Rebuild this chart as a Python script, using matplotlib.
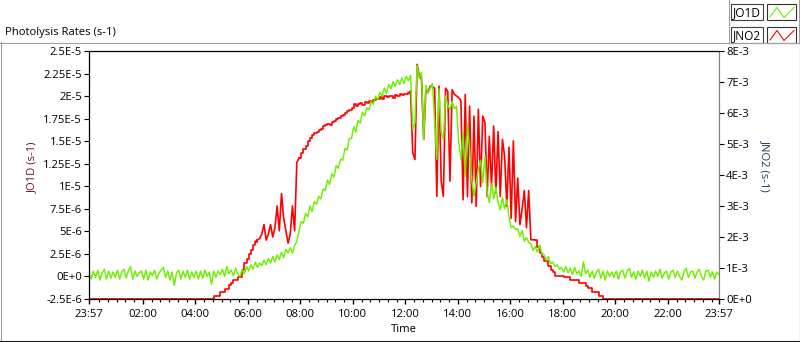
import numpy as np
import matplotlib
matplotlib.use('Agg')
import matplotlib.pyplot as plt
from matplotlib.lines import Line2D
from matplotlib.patches import Rectangle

# samples every 5 minutes, from 23:57 the day before up to 23:57
minutes = np.arange(-3, 1438, 5)

# JO1D in units of 1e-6 s-1, one line per hour
jo1d = [
    0.5, -0.3, 0.6, -0.1, 0.7, -0.4, 0.4, 0.8, -0.3, 0.6, -0.2, 0.5,
    -0.1, 0.7, -0.3, 0.5, 0.8, -0.2, 0.6, 1.1, -0.3, 0.6, 0.0, 0.4,
    0.6, -0.3, 0.7, -0.4, 0.5, 0.1, 0.7, -0.3, 0.4, 0.7, 1.0, -0.1,
    0.6, -0.4, 0.5, -1.0, 0.4, 0.7, -0.3, 0.6, -0.1, 0.7, -0.3, 0.5,
    -0.1, 0.6, -0.3, 0.6, -0.2, 0.7, 0.0, 0.5, -0.9, 0.6, -0.1, 0.6,
    0.2, 0.8, 0.0, 1.1, 0.3, 0.7, 0.1, 0.9, 0.3, 0.0, 0.8, 0.3,
    1.1, 0.6, 1.3, 0.8, 1.6, 1.0, 1.5, 1.2, 1.8, 1.3, 2.0, 1.5,
    2.2, 1.6, 2.4, 1.9, 2.7, 2.1, 3.0, 2.6, 3.2, 2.6, 3.4, 3.9,
    5.0, 6.1, 5.9, 7.0, 6.6, 7.8, 7.2, 8.3, 8.0, 8.9, 8.6, 9.7,
    9.5, 10.7, 10.2, 11.4, 11.0, 12.3, 12.0, 13.0, 12.9, 14.2, 14.0, 15.3,
    15.3, 16.6, 16.0, 17.3, 17.0, 18.2, 17.8, 18.7, 18.5, 19.4, 19.1, 20.0,
    19.6, 20.4, 20.0, 20.9, 20.3, 21.3, 20.8, 21.6, 21.1, 21.8, 21.3, 22.0,
    21.4, 22.2, 21.7, 22.3, 16.3, 17.0, 23.4, 22.0, 22.6, 15.2, 21.2, 20.3,
    20.9, 21.4, 17.1, 13.0, 20.8, 16.0, 15.2, 20.0, 19.0, 18.5, 19.4, 18.6,
    18.9, 14.9, 13.0, 15.9, 11.1, 16.9, 14.2, 10.7, 8.9, 10.4, 11.9, 12.9,
    10.4, 13.3, 9.3, 8.2, 10.3, 8.6, 9.9, 8.2, 7.4, 8.8, 7.5, 8.5,
    6.6, 5.4, 5.6, 5.2, 5.3, 4.4, 5.1, 3.9, 4.3, 3.8, 3.6, 2.9,
    3.3, 2.7, 3.5, 2.5, 2.4, 1.8, 2.2, 1.4, 1.6, 1.1, 1.3, 0.8,
    1.0, 0.5, 1.1, 0.4, 0.9, 0.2, 1.0, 0.3, 0.6, 0.0, 1.6, 0.3,
    0.7, -0.1, 0.6, -0.2, 0.5, 0.8, -0.2, 0.6, -0.4, 0.6, 0.0, 0.5,
    -0.1, 0.6, -0.3, 0.5, 0.7, -0.2, 0.6, 0.9, -0.1, 0.5, -0.3, 0.6,
    0.0, 0.7, -0.2, 0.6, -0.5, 0.5, -0.1, 0.6, 0.0, 0.8, -0.2, 0.4,
    0.6, -0.3, 0.5, 0.7, -0.1, 0.6, 0.0, -0.4, 0.5, 0.9, -0.1, 0.5,
    0.6, -0.2, 0.5, 0.8, 0.0, -0.4, 0.6, 0.7, -0.1, 0.5, -0.3, 0.5,
    0.2,
]

# JNO2 in units of 1e-3 s-1, one line per hour
jno2 = [
    0, 0, 0, 0, 0, 0, 0, 0, 0, 0, 0, 0,
    0, 0, 0, 0, 0, 0, 0, 0, 0, 0, 0, 0,
    0, 0, 0, 0, 0, 0, 0, 0, 0, 0, 0, 0,
    0, 0, 0, 0, 0, 0, 0, 0, 0, 0, 0, 0,
    0, 0, 0, 0, 0, 0, 0, 0, 0, 0.11, 0.11, 0.11,
    0.22, 0.22, 0.32, 0.32, 0.45, 0.53, 0.61, 0.61, 0.72, 0.72, 0.94, 1.16,
    1.30, 1.45, 1.59, 1.75, 1.85, 1.91, 1.95, 2.1, 2.4, 1.9, 2.1, 2.4,
    2.0, 2.3, 3.0, 2.2, 3.4, 2.6, 2.2, 1.8, 2.1, 3.0, 2.2, 4.4,
    4.55, 4.7, 4.85, 4.95, 5.1, 5.2, 5.3, 5.35, 5.4, 5.45, 5.5, 5.58,
    5.6, 5.65, 5.62, 5.7, 5.75, 5.8, 5.85, 5.9, 5.95, 6.0, 6.05, 6.1,
    6.15, 6.28, 6.22, 6.3, 6.33, 6.25, 6.35, 6.33, 6.4, 6.36, 6.42, 6.44,
    6.45, 6.5, 6.46, 6.55, 6.52, 6.56, 6.55, 6.48, 6.57, 6.55, 6.6, 6.58,
    6.6, 6.62, 6.65, 6.7, 4.72, 4.5, 7.57, 7.2, 7.1, 5.15, 6.76, 6.66,
    6.87, 6.85, 6.8, 3.31, 6.87, 3.8, 3.31, 6.8, 6.7, 3.8, 6.75, 6.6,
    6.55, 6.5, 6.4, 3.2, 6.6, 3.3, 6.22, 3.1, 5.9, 2.99, 6.12, 3.63,
    5.9, 5.69, 3.31, 5.25, 3.63, 5.58, 3.42, 5.4, 3.31, 5.15, 4.6, 2.99,
    4.9, 2.6, 5.1, 2.5, 3.9, 2.4, 2.9, 3.5, 2.3, 3.5, 1.91, 1.91,
    1.91, 1.69, 1.48, 1.37, 1.21, 1.21, 1.05, 0.95, 0.88, 0.74, 0.74, 0.74,
    0.74, 0.70, 0.70, 0.70, 0.61, 0.61, 0.61, 0.61, 0.53, 0.53, 0.53, 0.42,
    0.35, 0.35, 0.24, 0.24, 0.24, 0.11, 0.11, 0, 0, 0, 0, 0,
    0, 0, 0, 0, 0, 0, 0, 0, 0, 0, 0, 0,
    0, 0, 0, 0, 0, 0, 0, 0, 0, 0, 0, 0,
    0, 0, 0, 0, 0, 0, 0, 0, 0, 0, 0, 0,
    0, 0, 0, 0, 0, 0, 0, 0, 0, 0, 0, 0,
    0,
]

time_ticks = [-0.05, 2, 4, 6, 8, 10, 12, 14, 16, 18, 20, 22, 23.95]
time_labels = ['23:57', '02:00', '04:00', '06:00', '08:00', '10:00', '12:00',
               '14:00', '16:00', '18:00', '20:00', '22:00', '23:57']
jo1d_ticks = [-2.5e-6, 0, 2.5e-6, 5e-6, 7.5e-6, 1e-5, 1.25e-5, 1.5e-5,
              1.75e-5, 2e-5, 2.25e-5, 2.5e-5]
jo1d_labels = ['-2.5E-6', '0E+0', '2.5E-6', '5E-6', '7.5E-6', '1E-5',
               '1.25E-5', '1.5E-5', '1.75E-5', '2E-5', '2.25E-5', '2.5E-5']
jno2_ticks = [0, 1e-3, 2e-3, 3e-3, 4e-3, 5e-3, 6e-3, 7e-3, 8e-3]
jno2_labels = ['0E+0', '1E-3', '2E-3', '3E-3', '4E-3', '5E-3', '6E-3',
               '7E-3', '8E-3']

W, H = 800, 342
GREEN = '#6cf000'
RED = '#ff0000'


def fx(x):
    return x / W


def fy(y):
    return 1 - y / H


def px_line(fig, xs, ys, color, lw=0.8):
    fig.add_artist(Line2D([fx(x) for x in xs], [fy(y) for y in ys],
                          transform=fig.transFigure, color=color, lw=lw))


def px_box(fig, x, y, w, h, color):
    fig.add_artist(Rectangle((fx(x), fy(y + h)), w / W, h / H,
                             transform=fig.transFigure, facecolor='white',
                             edgecolor=color, lw=0.8))


def main():
    plt.rcParams['font.family'] = ['Open Sans', 'DejaVu Sans']
    fs = 8.1

    fig = plt.figure(figsize=(W / 100, H / 100), dpi=100)
    ax = fig.add_axes([fx(89), 43 / H, 630 / W, 248 / H])
    ax2 = ax.twinx()
    ax.set_zorder(ax2.get_zorder() + 1)
    ax.patch.set_visible(False)

    hours = minutes / 60.0
    red = np.array(jno2) * 1e-3
    # the smooth parts of JNO2 read as a staircase, the noisy parts as spikes
    bounds = [-1, 6.3, 7.95, 12.2, 16.95, 25]
    for i in range(len(bounds) - 1):
        sel = (hours > bounds[i] - 5 / 60) & (hours < bounds[i + 1] + 5 / 60)
        style = 'steps-post' if i % 2 == 0 else 'default'
        ax2.plot(hours[sel], red[sel], color=RED, lw=1.2, drawstyle=style)
    ax.plot(hours, np.array(jo1d) * 1e-6, color=GREEN, lw=1.05)

    ax.set_xlim(-0.05, 23.95)
    ax.set_ylim(-2.5e-6, 2.5e-5)
    ax2.set_ylim(0, 8e-3)

    ax.set_xticks(time_ticks)
    ax.set_xticklabels(time_labels)
    minor = [m / 60.0 for m in range(20, 1440, 20) if m % 120 != 0]
    ax.set_xticks(minor, minor=True)
    ax.set_yticks(jo1d_ticks)
    ax.set_yticklabels(jo1d_labels)
    ax2.set_yticks(jno2_ticks)
    ax2.set_yticklabels(jno2_labels)

    ax.tick_params(axis='x', which='major', direction='out', length=3.8,
                   width=1.0, pad=3.2, labelsize=fs)
    ax.tick_params(axis='x', which='minor', direction='out', length=2.2,
                   width=0.8)
    ax.tick_params(axis='y', direction='out', length=3.6, width=0.8,
                   pad=1.5, labelsize=fs)
    ax2.tick_params(axis='y', direction='out', length=3.6, width=0.8,
                    pad=1.5, labelsize=fs)

    ax.spines['right'].set_visible(False)
    for s in ['left', 'top', 'bottom']:
        ax.spines[s].set_color('black')
        ax.spines[s].set_linewidth(0.9)
        ax2.spines[s].set_visible(False)
    ax2.spines['right'].set_color('#808080')
    ax2.spines['right'].set_linewidth(0.9)

    # axis titles
    fig.text(fx(32.5), fy(167.5), 'JO1D (s-1)', rotation=90, ha='center',
             va='center', fontsize=fs, color='#6b1030')
    fig.text(fx(765), fy(165.5), 'JNO2 (s-1)', rotation=270, ha='center',
             va='center', fontsize=fs, color='#1f3a5f')
    fig.text(fx(404), fy(329), 'Time', ha='center', va='center', fontsize=fs)
    fig.text(fx(5), fy(32), 'Photolysis Rates (s-1)', ha='left',
             va='center', fontsize=fs)

    # outer frame
    px_line(fig, [0, 728], [42.5, 42.5], '#a0a0a0')
    px_line(fig, [0.5, 0.5], [42, 341], '#a0a0a0')
    px_line(fig, [0, 800], [340.5, 340.5], '#202020')
    px_line(fig, [799.5, 799.5], [42, 341], '#202020')

    # legend
    px_line(fig, [728.5, 728.5], [0, 43], '#a0a0a0')
    px_line(fig, [728, 799], [42.5, 42.5], '#a0a0a0')
    px_line(fig, [798.5, 798.5], [0, 43], '#a0a0a0')
    for i, (name, color) in enumerate([('JO1D', GREEN), ('JNO2', RED)]):
        top = 4 + 23 * i
        px_box(fig, 730.5, top, 32, 16, '#404040')
        px_box(fig, 767, top, 29, 16, '#303030')
        fig.text(fx(746.5), fy(top + 8.5), name, ha='center', va='center',
                 fontsize=8.6)
        px_line(fig, [770, 777, 784, 794],
                [top + 13, top + 3.5, top + 13.5, top + 3.5], color, lw=0.8)

    fig.savefig('out.png', dpi=100, facecolor='white')


if __name__ == '__main__':
    main()
